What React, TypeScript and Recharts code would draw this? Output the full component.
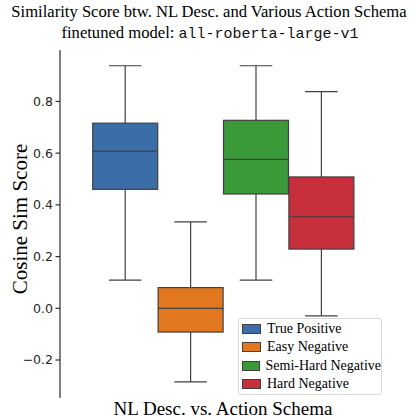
import React from 'react';
import { ComposedChart, Bar, XAxis, YAxis } from 'recharts';

// one box per hue
const groups = ['True Positive', 'Easy Negative', 'Semi-Hard Negative', 'Hard Negative'];
const whiskerLow = [0.109, -0.285, 0.109, -0.029];
const q1 = [0.46, -0.092, 0.442, 0.229];
const median = [0.608, 0.0, 0.576, 0.354];
const q3 = [0.716, 0.08, 0.727, 0.508];
const whiskerHigh = [0.938, 0.334, 0.938, 0.838];
const boxColors = ['#3b6ea8', '#e1771e', '#3a9a3a', '#c62f3b'];
const yTicks = [-0.2, 0, 0.2, 0.4, 0.6, 0.8];

const data = groups.map((name, i) => ({
  name,
  range: [whiskerLow[i], whiskerHigh[i]],
  low: whiskerLow[i],
  q1: q1[i],
  median: median[i],
  q3: q3[i],
  high: whiskerHigh[i],
  color: boxColors[i],
}));

const LINE = '#404040';
const SERIF = '"Liberation Serif", "Times New Roman", serif';

const BoxShape = (props: any) => {
  const { x, y, width, height, payload } = props;
  const top = Math.min(y, y + height);
  const bottom = Math.max(y, y + height);
  const span = payload.high - payload.low;
  // position inside the whisker range bar
  const py = (v: number) => top + ((payload.high - v) / span) * (bottom - top);
  const cx = x + width / 2;
  const cap = width / 4;
  const yQ1 = py(payload.q1);
  const yQ3 = py(payload.q3);
  const yMed = py(payload.median);
  return (
    <g>
      <line x1={cx} x2={cx} y1={top} y2={yQ3} stroke={LINE} strokeWidth={1.2} />
      <line x1={cx} x2={cx} y1={yQ1} y2={bottom} stroke={LINE} strokeWidth={1.2} />
      <line x1={cx - cap} x2={cx + cap} y1={top} y2={top} stroke={LINE} strokeWidth={1.2} />
      <line x1={cx - cap} x2={cx + cap} y1={bottom} y2={bottom} stroke={LINE} strokeWidth={1.2} />
      <rect x={x} y={yQ3} width={width} height={yQ1 - yQ3} fill={payload.color} stroke={LINE} strokeWidth={1.2} />
      <line x1={x} x2={x + width} y1={yMed} y2={yMed} stroke={LINE} strokeWidth={1.2} />
    </g>
  );
};

const fmt = (v: number) => (v < 0 ? '\u2212' + Math.abs(v).toFixed(1) : v.toFixed(1));

export default function App() {
  return (
    <div style={{ position: 'absolute', left: 0, top: 0, width: 415, height: 420, background: '#fff', fontFamily: SERIF }}>
      <div style={{ position: 'absolute', left: 0, top: 4, width: 418, textAlign: 'center', fontSize: 16.6, lineHeight: '16px', whiteSpace: 'nowrap', color: '#000' }}>
        Similarity Score btw. NL Desc. and Various Action Schema
      </div>
      <div style={{ position: 'absolute', left: 0, top: 25, width: 420, textAlign: 'center', fontSize: 16.6, lineHeight: '16px', whiteSpace: 'nowrap', color: '#000' }}>
        finetuned model: <span style={{ fontFamily: '"Liberation Mono", monospace', fontSize: 15, color: '#111' }}>all-roberta-large-v1</span>
      </div>
      <ComposedChart
        width={415}
        height={420}
        data={data}
        barCategoryGap={0}
        margin={{ top: 50, right: 28, bottom: 17, left: 18 }}
      >
        <XAxis xAxisId="cat" dataKey="name" hide padding={{ left: 32.7, right: 32.7 }} />
        <XAxis
          xAxisId="pos"
          type="number"
          domain={[-0.5, 0.5]}
          ticks={[0]}
          allowDataOverflow
          height={5}
          tickSize={4.5}
          tickFormatter={() => ''}
          axisLine={{ stroke: '#333', strokeWidth: 1.25 }}
          tickLine={{ stroke: '#333', strokeWidth: 1.25 }}
        />
        <XAxis
          xAxisId="top"
          orientation="top"
          type="number"
          domain={[0, 1]}
          height={0}
          tick={false}
          tickLine={false}
          axisLine={{ stroke: '#333', strokeWidth: 1.25 }}
        />
        <YAxis
          yAxisId="left"
          type="number"
          domain={[-0.347, 0.999]}
          allowDataOverflow
          ticks={yTicks}
          tickFormatter={fmt}
          width={42}
          tickSize={4.5}
          tickMargin={2.5}
          tick={{ fontFamily: '"DejaVu Sans", sans-serif', fontSize: 12.5, fill: '#262626' }}
          axisLine={{ stroke: '#333', strokeWidth: 1.25 }}
          tickLine={{ stroke: '#333', strokeWidth: 1.25 }}
        />
        <YAxis
          yAxisId="right"
          orientation="right"
          type="number"
          domain={[0, 1]}
          width={0}
          tick={false}
          tickLine={false}
          axisLine={{ stroke: '#333', strokeWidth: 1.25 }}
        />
        <Bar xAxisId="cat" yAxisId="left" dataKey="range" shape={BoxShape} isAnimationActive={false} />
      </ComposedChart>
      <div
        style={{
          position: 'absolute',
          left: 20,
          top: 219,
          transform: 'translate(-50%, -50%) rotate(-90deg)',
          fontSize: 21,
          lineHeight: '21px',
          whiteSpace: 'nowrap',
          color: '#000',
        }}
      >
        Cosine Sim Score
      </div>
      <div style={{ position: 'absolute', left: 113, top: 399, width: 220, textAlign: 'center', fontSize: 19, lineHeight: '19px', whiteSpace: 'nowrap', color: '#000' }}>
        NL Desc. vs. Action Schema
      </div>
      <div
        style={{
          position: 'absolute',
          left: 238,
          top: 318,
          width: 144,
          height: 77,
          boxSizing: 'border-box',
          border: '1px solid #d9d9d9',
          borderRadius: 3,
          background: 'rgba(255,255,255,0.8)',
          padding: '1px 0 0 3px',
        }}
      >
        {groups.map((g, i) => (
          <div key={g} style={{ display: 'flex', alignItems: 'center', height: 18.3, fontSize: 14, whiteSpace: 'nowrap' }}>
            <span style={{ display: 'inline-block', width: 17, height: 8, background: boxColors[i], border: '1px solid #404040', marginRight: 6 }} />
            {g}
          </div>
        ))}
      </div>
    </div>
  );
}
